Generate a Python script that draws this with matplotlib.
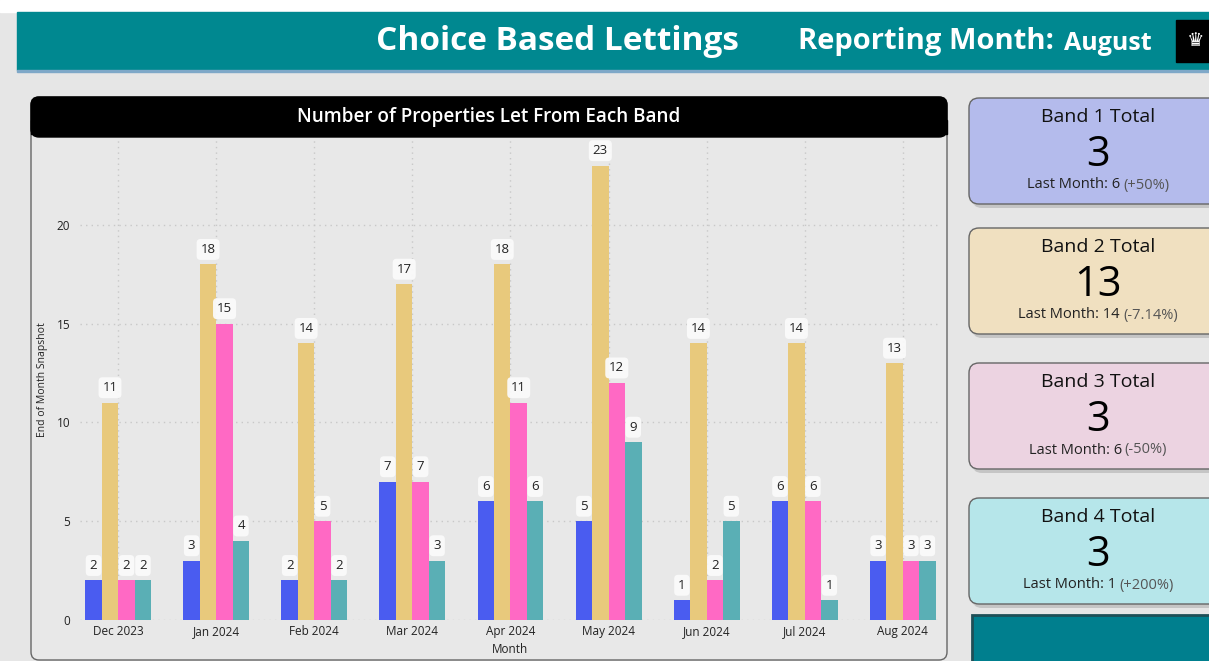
import matplotlib.pyplot as plt
import numpy as np
from matplotlib.patches import FancyBboxPatch, Rectangle

# 数据
months = ['Dec 2023', 'Jan 2024', 'Feb 2024', 'Mar 2024', 'Apr 2024',
          'May 2024', 'Jun 2024', 'Jul 2024', 'Aug 2024']
band1 = [2, 3, 2, 7, 6, 5, 1, 6, 3]
band2 = [11, 18, 14, 17, 18, 23, 14, 14, 13]
band3 = [2, 15, 5, 7, 11, 12, 2, 6, 3]
band4 = [2, 4, 2, 3, 6, 9, 5, 1, 3]
yticks = [0, 5, 10, 15, 20]

card_titles = ['Band 1 Total', 'Band 2 Total', 'Band 3 Total', 'Band 4 Total']
card_values = ['3', '13', '3', '3']
card_last = ['Last Month: 6', 'Last Month: 14', 'Last Month: 6', 'Last Month: 1']
card_change = ['(+50%)', '(-7.14%)', '(-50%)', '(+200%)']

bar_colors = ['#4a5cf0', '#e8c97c', '#ff69c4', '#5aafb5']
card_colors = ['#b4bbec', '#f0e0c0', '#ecd3e1', '#b6e6ea']

plt.rcParams['font.family'] = ['Open Sans', 'DejaVu Sans']

W, H = 1209, 661
fig = plt.figure(figsize=(W / 100, H / 100), dpi=100)
fig.patch.set_facecolor('#e6e6e6')

# 背景层（像素坐标）
bg = fig.add_axes([0, 0, 1, 1], zorder=0)
bg.set_xlim(0, W)
bg.set_ylim(H, 0)
bg.axis('off')

bg.add_patch(Rectangle((0, 0), W, 12, color='white'))
bg.add_patch(Rectangle((17, 12), W, 58, color='#008890'))
bg.add_patch(Rectangle((17, 70), W, 2, color='#7fa8c8'))
bg.text(557, 42, 'Choice Based Lettings', color='white', fontsize=24,
        fontweight='bold', ha='center', va='center')
bg.text(798, 42, 'Reporting Month:', color='white', fontsize=21,
        fontweight='bold', ha='left', va='center')
bg.text(1064, 44, 'August', color='white', fontsize=18,
        fontweight='bold', ha='left', va='center')
bg.add_patch(Rectangle((1176, 20), 40, 42, color='black'))
bg.text(1196, 41, '♛', color='white', fontsize=14, ha='center', va='center')

# 图表面板
bg.add_patch(FancyBboxPatch((31, 97), 916, 563, boxstyle='round,pad=0,rounding_size=8',
                            fc='#e8e8e8', ec='#666666', lw=1))
bg.add_patch(FancyBboxPatch((31, 97), 916, 40, boxstyle='round,pad=0,rounding_size=8',
                            fc='black', ec='black', lw=1))
bg.add_patch(Rectangle((31, 120), 916, 14, color='black'))
bg.text(489, 117, 'Number of Properties Let From Each Band', color='white',
        fontsize=13.6, fontweight='semibold', ha='center', va='center')

# 右侧卡片
card_tops = [98, 228, 363, 498]
card_h = 106
renderer = fig.canvas.get_renderer()
for i in range(4):
    top = card_tops[i]
    bg.add_patch(FancyBboxPatch((972, top + 4), 260, card_h, boxstyle='round,pad=0,rounding_size=10',
                                fc='#b0b0b0', ec='none', alpha=0.6))
    bg.add_patch(FancyBboxPatch((969, top), 260, card_h, boxstyle='round,pad=0,rounding_size=10',
                                fc=card_colors[i], ec='#666666', lw=1))
    bg.text(1098, top + 19, card_titles[i], fontsize=14, fontweight='medium',
            ha='center', va='center', color='#111111')
    bg.text(1098, top + 57, card_values[i], fontsize=30, ha='center', va='center', color='black')
    # 两段文字拼接居中
    t1 = bg.text(0, top + 87, card_last[i], fontsize=10.5, ha='left', va='center', color='#222222')
    t2 = bg.text(0, top + 87, card_change[i], fontsize=10.5, ha='left', va='center', color='#555555')
    w1 = t1.get_window_extent(renderer).width
    w2 = t2.get_window_extent(renderer).width
    start = 1098 - (w1 + w2 + 3) / 2
    t1.set_x(start)
    t2.set_x(start + w1 + 3)
bg.add_patch(Rectangle((972, 615), 245, 60, fc='#007f8e', ec='#1e4f57', lw=2))

# 柱状图
x0, x1, y0, y1 = 80, 940, 140, 620
ax = fig.add_axes([x0 / W, 1 - y1 / H, (x1 - x0) / W, (y1 - y0) / H], zorder=1)
ax.set_facecolor('none')
x = np.arange(len(months))
bw = 0.168
series = [band1, band2, band3, band4]
for k, vals in enumerate(series):
    pos = x + (k - 1.5) * bw
    bars = ax.bar(pos, vals, bw, color=bar_colors[k], zorder=2)
    for b, v in zip(bars, vals):
        ax.annotate(str(v), (b.get_x() + b.get_width() / 2, v), xytext=(0, 15),
                    textcoords='offset pixels', ha='center', va='center',
                    fontsize=9.5, fontweight='medium', color='#222222', zorder=5,
                    bbox=dict(boxstyle='round,pad=0.3,rounding_size=0.3', fc='#fafafa',
                              ec='none', alpha=0.95))

ax.set_xlim(-0.39, 8.38)
ax.set_ylim(0, 24.3)
ax.set_yticks(yticks)
ax.set_xticks(x)
ax.set_xticklabels(months)
ax.tick_params(length=0, labelsize=8.5, colors='#222222')
ax.tick_params(axis='y', pad=7)
ax.grid(True, linestyle=(0, (1, 3)), color='#c8c8c8', lw=1, zorder=0)
for s in ax.spines.values():
    s.set_visible(False)
ax.set_ylabel('End of Month Snapshot', fontsize=7.5, color='#222222', labelpad=6)
ax.set_xlabel('Month', fontsize=8.5, color='#222222', labelpad=4)

plt.savefig('out.png', dpi=100, facecolor=fig.get_facecolor())
